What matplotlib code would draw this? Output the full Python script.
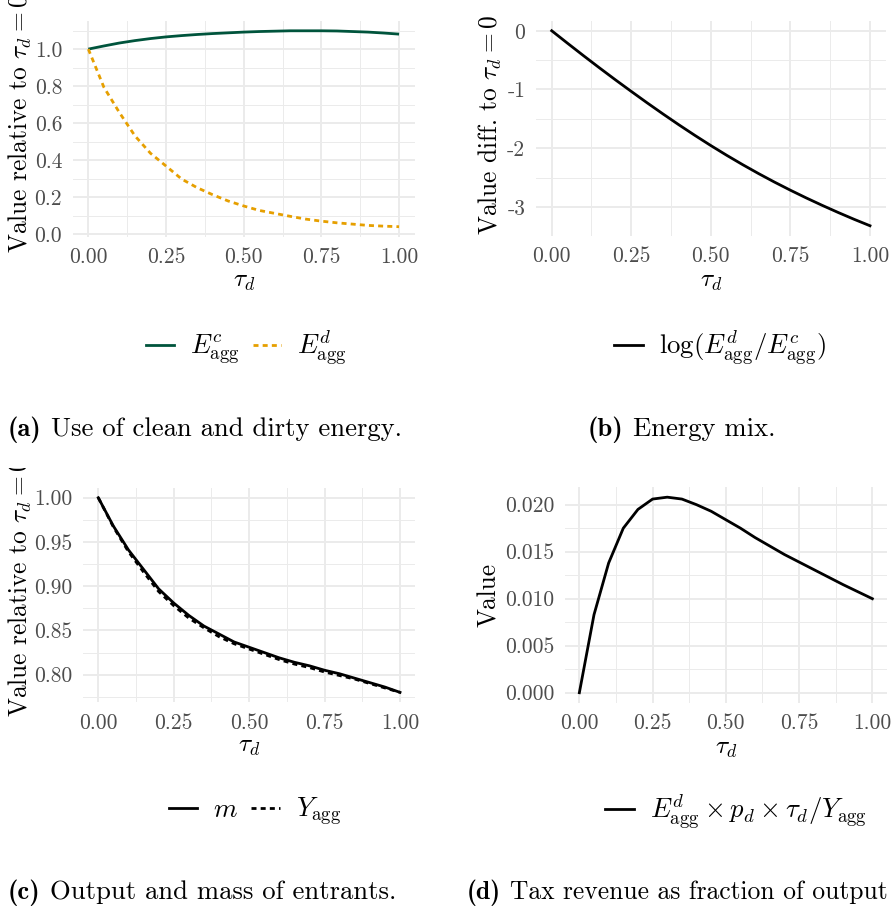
import matplotlib
matplotlib.use("Agg")
import matplotlib.pyplot as plt
from matplotlib.lines import Line2D
from matplotlib.transforms import Bbox, TransformedBbox
from matplotlib.offsetbox import HPacker, TextArea, AnnotationBbox

plt.rcParams.update({
    "font.family": "serif",
    "font.serif": ["cmr10"],
    "mathtext.fontset": "cm",
    "axes.unicode_minus": False,
    "axes.formatter.use_mathtext": True,
})

# ---------------------------------------------------------------- data
tau = [0.00, 0.05, 0.10, 0.15, 0.20, 0.25, 0.30, 0.35, 0.40, 0.45, 0.50,
       0.55, 0.60, 0.65, 0.70, 0.75, 0.80, 0.85, 0.90, 0.95, 1.00]

clean_energy = [1.000, 1.017, 1.033, 1.046, 1.057, 1.066, 1.073, 1.079, 1.084,
                1.088, 1.092, 1.095, 1.097, 1.099, 1.099, 1.099, 1.098, 1.095,
                1.092, 1.087, 1.081]
dirty_energy = [1.000, 0.794, 0.657, 0.531, 0.437, 0.368, 0.298, 0.251, 0.213,
                0.179, 0.152, 0.128, 0.112, 0.096, 0.081, 0.070, 0.061, 0.054,
                0.047, 0.043, 0.040]

log_mix = [0.000, -0.214, -0.425, -0.632, -0.835, -1.033, -1.228, -1.418,
           -1.603, -1.782, -1.955, -2.121, -2.280, -2.432, -2.577, -2.715,
           -2.847, -2.973, -3.094, -3.210, -3.320]

entrants_m = [1.000, 0.968, 0.941, 0.919, 0.897, 0.881, 0.867, 0.855, 0.846,
              0.837, 0.831, 0.825, 0.819, 0.814, 0.810, 0.805, 0.801, 0.796,
              0.791, 0.786, 0.780]
output_y = [1.000, 0.967, 0.939, 0.916, 0.894, 0.878, 0.864, 0.853, 0.843,
            0.835, 0.829, 0.823, 0.817, 0.812, 0.808, 0.803, 0.799, 0.795,
            0.790, 0.785, 0.780]

tax_share = [0.0000, 0.0083, 0.0138, 0.0175, 0.0195, 0.0206, 0.0208, 0.0206,
             0.0200, 0.0193, 0.0184, 0.0175, 0.0165, 0.0156, 0.0147, 0.0139,
             0.0131, 0.0123, 0.0115, 0.01075, 0.0100]

x_ticks = [0.0, 0.25, 0.5, 0.75, 1.0]
x_tick_labels = ["0.00", "0.25", "0.50", "0.75", "1.00"]
x_minor = [0.125, 0.375, 0.625, 0.875]

a_ticks = [0.0, 0.2, 0.4, 0.6, 0.8, 1.0]
a_tick_labels = ["0.0", "0.2", "0.4", "0.6", "0.8", "1.0"]
a_minor = [0.1, 0.3, 0.5, 0.7, 0.9, 1.1]

b_ticks = [-3, -2, -1, 0]
b_tick_labels = ["-3", "-2", "-1", "0"]
b_minor = [-2.5, -1.5, -0.5]

c_ticks = [0.80, 0.85, 0.90, 0.95, 1.00]
c_tick_labels = ["0.80", "0.85", "0.90", "0.95", "1.00"]
c_minor = [0.775, 0.825, 0.875, 0.925, 0.975]

d_ticks = [0.0, 0.005, 0.010, 0.015, 0.020]
d_tick_labels = ["0.000", "0.005", "0.010", "0.015", "0.020"]
d_minor = [0.0025, 0.0075, 0.0125, 0.0175]

legend_a = [r"$E^c_{\mathrm{agg}}$", r"$E^d_{\mathrm{agg}}$"]
legend_b = [r"$\log(E^d_{\mathrm{agg}}/E^c_{\mathrm{agg}})$"]
legend_c = [r"$m$", r"$Y_{\mathrm{agg}}$"]
legend_d = [r"$E^d_{\mathrm{agg}}\times p_d\times \tau_d/Y_{\mathrm{agg}}$"]

caption_tags = ["(a)", "(b)", "(c)", "(d)"]
caption_texts = [
    "Use of clean and dirty energy.",
    "Energy mix.",
    "Output and mass of entrants.",
    "Tax revenue as fraction of output",
]

# ---------------------------------------------------------------- style
GREEN = "#00543C"
ORANGE = "#E69F00"
GRID = "#EBEBEB"
TICK = "#4D4D4D"
LW = 2.0
DASH = (0, (1.8, 1.5))
TICK_FS = 15.5
TITLE_FS = 18.3
LEG_FS = 19.3
CAP_FS = 19.2

W, H = 895, 909
fig = plt.figure(figsize=(W / 100, H / 100), dpi=100)


def panel(l, t, r, b):
    return fig.add_axes([l / W, 1 - b / H, (r - l) / W, (b - t) / H])


def expand(values):
    lo, hi = min(values), max(values)
    pad = 0.05 * (hi - lo)
    return lo - pad, hi + pad


def style(ax, yvals, yt, ytl, ymin, ylabel, xlab_pos, ylab_pos, ylab_ha, clip_top):
    ax.set_xlim(*expand(tau))
    ax.set_ylim(*expand(yvals))
    ax.set_xticks(x_ticks, x_tick_labels)
    ax.set_xticks(x_minor, minor=True)
    ax.set_yticks(yt, ytl)
    ax.set_yticks(ymin, minor=True)
    ax.grid(which="major", color=GRID, lw=1.4)
    ax.grid(which="minor", color=GRID, lw=0.7)
    ax.set_axisbelow(True)
    for s in ax.spines.values():
        s.set_visible(False)
    ax.tick_params(which="both", length=0)
    ax.tick_params(axis="x", pad=8.0, labelsize=TICK_FS, labelcolor=TICK)
    ax.tick_params(axis="y", pad=7.6, labelsize=TICK_FS, labelcolor=TICK)
    ax.set_xlabel(r"$\tau_d$", fontsize=TITLE_FS)
    ax.xaxis.label.set_va("center")
    ax.xaxis.set_label_coords(xlab_pos[0] / W, 1 - xlab_pos[1] / H,
                              transform=fig.transFigure)
    # the y title is anchored in its own (rotated) frame: ha runs along the text
    ax.set_ylabel(ylabel, fontsize=TITLE_FS, rotation_mode="anchor")
    ax.yaxis.label.set_va("center")
    ax.yaxis.label.set_ha(ylab_ha)
    ax.yaxis.set_label_coords(ylab_pos[0] / W, 1 - ylab_pos[1] / H,
                              transform=fig.transFigure)
    box = TransformedBbox(Bbox([[0, 0], [1, 1 - clip_top / H]]), fig.transFigure)
    ax.yaxis.label.set_clip_box(box)
    ax.yaxis.label.set_clip_on(True)


def legend(ax, handles, labels, cx, cy):
    ax.legend(handles, labels, loc="center", bbox_to_anchor=(cx / W, 1 - cy / H),
              bbox_transform=fig.transFigure, ncol=len(labels), frameon=False,
              fontsize=LEG_FS, handlelength=1.05, handletextpad=0.6,
              columnspacing=0.5, borderpad=0, borderaxespad=0)


def caption(i, x, y, size=CAP_FS):
    tag = TextArea(caption_tags[i], textprops=dict(family="cmb10", size=size))
    body = TextArea(caption_texts[i], textprops=dict(size=size))
    row = HPacker(children=[tag, body], align="baseline", pad=0, sep=6.5)
    ab = AnnotationBbox(row, (x / W, 1 - y / H), xycoords="figure fraction",
                        box_alignment=(0, 0.5), frameon=False, pad=0)
    fig.add_artist(ab)


rel_label = r"Value relative to $\tau_d = 0$"

# (a) clean and dirty energy
ax = panel(72.8, 21, 414.6, 236.5)
ax.plot(tau, clean_energy, color=GREEN, lw=LW, solid_capstyle="butt")
ax.plot(tau, dirty_energy, color=ORANGE, lw=LW, ls=DASH, dash_capstyle="butt")
style(ax, clean_energy + dirty_energy, a_ticks, a_tick_labels, a_minor,
      rel_label, (243.7, 281), (20.5, 253), "left", 0)
legend(ax, [Line2D([], [], color=GREEN, lw=LW),
            Line2D([], [], color=ORANGE, lw=LW, ls=DASH)], legend_a, 246.5, 348)

# (b) energy mix
ax = panel(535.8, 21, 885.9, 235.5)
ax.plot(tau, log_mix, color="black", lw=LW)
style(ax, log_mix, b_ticks, b_tick_labels, b_minor,
      r"Value diff. to $\tau_d = 0$", (710.9, 281), (490.5, 235), "left", 0)
legend(ax, [Line2D([], [], color="black", lw=LW)], legend_b, 720, 348)

# (c) output and mass of entrants
ax = panel(83.2, 488, 415.1, 702.1)
ax.plot(tau, entrants_m, color="black", lw=LW)
ax.plot(tau, output_y, color="black", lw=LW, ls=DASH, dash_capstyle="butt")
style(ax, entrants_m + output_y, c_ticks, c_tick_labels, c_minor,
      rel_label, (249.2, 746), (20.5, 717), "left", 468)
legend(ax, [Line2D([], [], color="black", lw=LW),
            Line2D([], [], color="black", lw=LW, ls=DASH)], legend_c, 255, 812)

# (d) tax revenue share
ax = panel(564.7, 487.4, 887.0, 702.5)
ax.plot(tau, tax_share, color="black", lw=LW)
style(ax, tax_share, d_ticks, d_tick_labels, d_minor,
      "Value", (725.9, 748), (489.5, 595), "center", 468)
legend(ax, [Line2D([], [], color="black", lw=LW)], legend_d, 736, 812)

# sub-figure captions
caption(0, 8, 430)
caption(1, 588, 430)
caption(2, 8, 893)
caption(3, 467, 893, size=18.4)

fig.savefig("out.png", dpi=100)
